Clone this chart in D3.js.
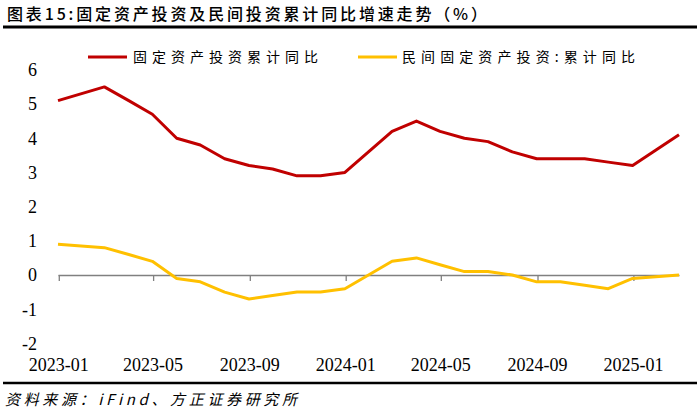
<!DOCTYPE html>
<html><head><meta charset="utf-8">
<script src="https://cdn.jsdelivr.net/npm/d3@7/dist/d3.min.js"></script>
<style>body{margin:0;background:#fff}svg{display:block}
.serif{font-family:"Liberation Serif","Times New Roman","DejaVu Serif",serif}</style>
</head><body>
<script>
// Data (end-of-month dates, cumulative YoY %)
const dates = ["2022-12-31","2023-02-28","2023-03-31","2023-04-30","2023-05-31","2023-06-30","2023-07-31","2023-08-31","2023-09-30","2023-10-31","2023-11-30","2023-12-31",
               "2024-02-29","2024-03-31","2024-04-30","2024-05-31","2024-06-30","2024-07-31","2024-08-31","2024-09-30","2024-10-31","2024-11-30","2024-12-31","2025-02-28"];
const fai = [5.1,5.5,5.1,4.7,4.0,3.8,3.4,3.2,3.1,2.9,2.9,3.0, 4.2,4.5,4.2,4.0,3.9,3.6,3.4,3.4,3.4,3.3,3.2,4.1];
const pvt = [0.9,0.8,0.6,0.4,-0.1,-0.2,-0.5,-0.7,-0.6,-0.5,-0.5,-0.4, 0.4,0.5,0.3,0.1,0.1,0.0,-0.2,-0.2,-0.3,-0.4,-0.1,0.0];
const xTickLabels = ["2023-01","2023-05","2023-09","2024-01","2024-05","2024-09","2025-01"];
const yTicks = [-2,-1,0,1,2,3,4,5,6];
const seriesNames = ["固定资产投资累计同比","民间固定资产投资:累计同比"];
const titleText = "图表15:固定资产投资及民间投资累计同比增速走势（%）";
const sourceText = "资料来源：iFind、方正证券研究所";

const W=700,H=410;
const svg=d3.select("body").append("svg").attr("width",W).attr("height",H);
const parse=d3.utcParse("%Y-%m-%d");
const parseM=d3.utcParse("%Y-%m");
const x=d3.scaleUtc().domain([parse("2022-12-31"),parse("2025-02-28")]).range([58,679]);
const y=d3.scaleLinear().domain([-2,6]).range([343.4,69.8]);

// title
svg.append("text").attr("x",7).attr("y",20).text(titleText)
  .attr("font-family","'Noto Sans CJK SC'").attr("font-size",16).attr("font-weight",500)
  .attr("fill","#000").attr("textLength",480).attr("lengthAdjust","spacing");
svg.append("line").attr("x1",3).attr("x2",697).attr("y1",27).attr("y2",27).attr("stroke","#000").attr("stroke-width",3);

// y labels
svg.append("g").selectAll("text").data(yTicks).join("text").attr("class","serif")
  .attr("x",37).attr("y",d=>y(d)).attr("dy","0.35em").attr("text-anchor","end")
  .attr("font-size",18).attr("fill","#000").text(d=>d);

// x axis at zero
const tickDates=xTickLabels.map(s=>parseM(s));
const xAxis=d3.axisBottom(x).tickValues(tickDates).tickSize(6).tickSizeOuter(0).tickFormat("");
const ax=svg.append("g").attr("transform",`translate(0,${y(0)})`).call(xAxis);
ax.select(".domain").attr("stroke","#808080").attr("stroke-width",1.3);
ax.selectAll(".tick line").attr("stroke","#808080").attr("stroke-width",1.3);

// x labels at bottom
svg.append("g").selectAll("text").data(xTickLabels).join("text").attr("class","serif")
  .attr("x",d=>x(parseM(d))).attr("y",371).attr("text-anchor","middle")
  .attr("font-size",18).attr("fill","#000").text(d=>d);

// lines
const colors=["#C00000","#FFC000"];
[fai,pvt].forEach((vals,i)=>{
  const line=d3.line().x((d,j)=>x(parse(dates[j]))).y(d=>y(d));
  svg.append("path").datum(vals).attr("d",line).attr("fill","none")
    .attr("stroke",colors[i]).attr("stroke-width",3).attr("stroke-linejoin","round");
});

// legend
const leg=[{x1:88,x2:127,tx:133,tl:185},{x1:358,x2:397,tx:402,tl:233}];
leg.forEach((l,i)=>{
  svg.append("line").attr("x1",l.x1).attr("x2",l.x2).attr("y1",57).attr("y2",57)
    .attr("stroke",colors[i]).attr("stroke-width",3);
  svg.append("text").attr("x",l.tx).attr("y",62).text(seriesNames[i])
    .attr("font-family","'Noto Sans CJK SC'").attr("font-size",14).attr("fill","#000")
    .attr("textLength",l.tl).attr("lengthAdjust","spacing");
});

// bottom rule and source
svg.append("line").attr("x1",3).attr("x2",697).attr("y1",383).attr("y2",383).attr("stroke","#000").attr("stroke-width",2.5);
svg.append("text").attr("x",5).attr("y",405).text(sourceText)
  .attr("font-family","'Noto Sans CJK SC'").attr("font-size",15).attr("font-style","italic").attr("fill","#000")
  .attr("textLength",292).attr("lengthAdjust","spacing");
</script>
</body></html>
